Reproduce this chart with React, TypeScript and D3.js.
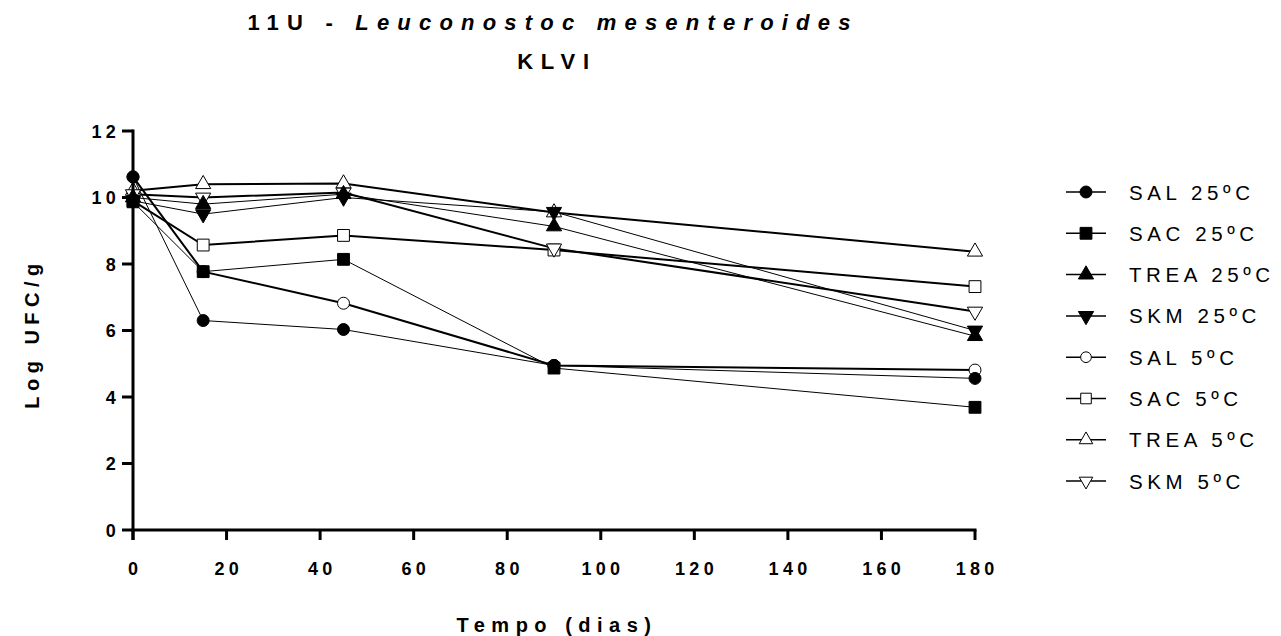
import React from "react";
import * as d3 from "d3";

const days = [0, 15, 45, 90, 180];
const sal25 = [10.62, 6.3, 6.03, 4.95, 4.56];
const sac25 = [9.87, 7.77, 8.14, 4.87, 3.69];
const trea25 = [10.0, 9.8, 10.1, 9.13, 5.83];
const skm25 = [9.9, 9.5, 10.0, 9.57, 6.0];
const sal5 = [10.62, 7.77, 6.82, 4.95, 4.81];
const sac5 = [9.9, 8.57, 8.86, 8.42, 7.32];
const trea5 = [10.2, 10.4, 10.42, 9.55, 8.37];
const skm5 = [10.1, 10.0, 10.15, 8.47, 6.57];

const xTicks = [0, 20, 40, 60, 80, 100, 120, 140, 160, 180];
const yTicks = [0, 2, 4, 6, 8, 10, 12];

type Series = { name: string; values: number[]; shape: string; filled: boolean; width: number };

const series: Series[] = [
  { name: "SAL 25ºC", values: sal25, shape: "circle", filled: true, width: 1 },
  { name: "SAC 25ºC", values: sac25, shape: "square", filled: true, width: 1 },
  { name: "TREA 25ºC", values: trea25, shape: "triangle", filled: true, width: 1 },
  { name: "SKM 25ºC", values: skm25, shape: "down", filled: true, width: 1 },
  { name: "SAL 5ºC", values: sal5, shape: "circle", filled: false, width: 2 },
  { name: "SAC 5ºC", values: sac5, shape: "square", filled: false, width: 2 },
  { name: "TREA 5ºC", values: trea5, shape: "triangle", filled: false, width: 2 },
  { name: "SKM 5ºC", values: skm5, shape: "down", filled: false, width: 2 },
];

const FONT = "Liberation Sans, Arial, sans-serif";

function symPath(shape: string, scale: number) {
  if (shape === "circle") return d3.symbol(d3.symbolCircle, 113 * scale)()!;
  if (shape === "square") return d3.symbol(d3.symbolSquare, 140 * scale)()!;
  return d3.symbol(d3.symbolTriangle, 100 * scale)()!;
}

function Marker({ s, cx, cy, scale = 1 }: { s: Series; cx: number; cy: number; scale?: number }) {
  const rot = s.shape === "down" ? " rotate(180)" : "";
  return (
    <path
      d={symPath(s.shape, scale)}
      transform={`translate(${cx},${cy})${rot}`}
      fill={s.filled ? "#000" : "#fff"}
      stroke="#000"
      strokeWidth={1}
    />
  );
}

export default function App() {
  const x = d3.scaleLinear().domain([0, 180]).range([133, 975]);
  const y = d3.scaleLinear().domain([0, 12]).range([530, 131]);
  const line = d3
    .line<number>()
    .x((_, i) => x(days[i]))
    .y((v) => y(v));

  const drawOrder = [...series.slice(4), ...series.slice(0, 4)];
  const legendY0 = 192;
  const legendStep = 41.3;

  return (
    <svg
      width={1281}
      height={636}
      style={{ position: "absolute", left: 0, top: 0, background: "#fff" }}
      fontFamily={FONT}
    >
      <rect width={1281} height={636} fill="#fff" />
      {/* Title */}
      <text x={553} y={30} textAnchor="middle" fontSize={22} fontWeight="bold" letterSpacing={8.2}>
        11U - <tspan fontStyle="italic">Leuconostoc mesenteroides</tspan>
      </text>
      <text x={557} y={69} textAnchor="middle" fontSize={22} fontWeight="bold" letterSpacing={7.8}>
        KLVI
      </text>

      {/* lines */}
      {drawOrder.map((s) => (
        <path key={"l" + s.name} d={line(s.values)!} fill="none" stroke="#000" strokeWidth={s.width} />
      ))}
      {/* markers */}
      {drawOrder.map((s) =>
        s.values.map((v, i) => <Marker key={s.name + i} s={s} cx={x(days[i])} cy={y(v)} />)
      )}

      {/* axes */}
      <line x1={x(0)} x2={x(0)} y1={y(12) - 1.5} y2={y(0) + 10} stroke="#000" strokeWidth={3} />
      <line x1={x(0) - 1.5} x2={x(180) + 1.5} y1={y(0)} y2={y(0)} stroke="#000" strokeWidth={3} />
      {yTicks.map((t) => (
        <g key={"yt" + t}>
          <line x1={x(0) - 11} x2={x(0)} y1={y(t)} y2={y(t)} stroke="#000" strokeWidth={3} />
          <text x={120} y={y(t) + 6.5} textAnchor="end" fontSize={18} fontWeight="bold" letterSpacing={4.3}>
            {t}
          </text>
        </g>
      ))}
      {xTicks.map((t) => (
        <g key={"xt" + t}>
          <line x1={x(t)} x2={x(t)} y1={y(0)} y2={y(0) + 10} stroke="#000" strokeWidth={3} />
          <text x={x(t) + 2.2} y={575} textAnchor="middle" fontSize={18} fontWeight="bold" letterSpacing={4.3}>
            {t}
          </text>
        </g>
      ))}
      <text x={557} y={632} textAnchor="middle" fontSize={20} fontWeight="bold" letterSpacing={6.5}>
        Tempo (dias)
      </text>
      <text
        transform={`translate(39,${(y(0) + y(12)) / 2 + 3}) rotate(-90)`}
        textAnchor="middle"
        fontSize={20}
        fontWeight="bold"
        letterSpacing={5.5}
      >
        Log UFC/g
      </text>

      {/* legend */}
      {series.map((s, i) => {
        const ly = legendY0 + i * legendStep;
        return (
          <g key={"lg" + s.name}>
            <line x1={1066} x2={1106} y1={ly} y2={ly} stroke="#000" strokeWidth={1.5} />
            <Marker s={s} cx={1086} cy={ly} scale={s.filled ? 1 : 0.8} />
            <text x={1129} y={ly + 7.5} fontSize={20.5} letterSpacing={4.6}>
              {s.name}
            </text>
          </g>
        );
      })}
    </svg>
  );
}
